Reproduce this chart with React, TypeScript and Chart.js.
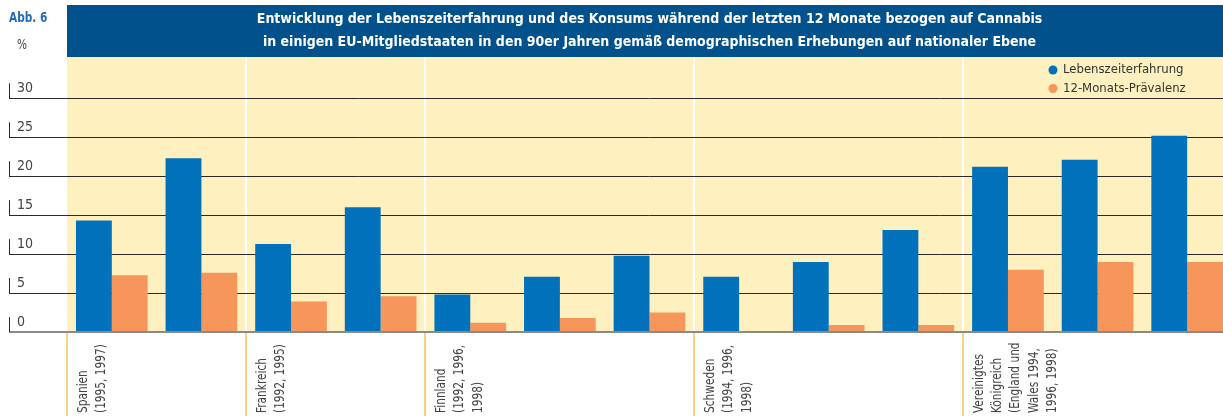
import React, { useEffect, useRef } from 'react';
import { Chart, registerables } from 'chart.js';

Chart.register(...registerables);

const FONT = "'Liberation Sans Narrow', 'DejaVu Sans Condensed', 'Arial Narrow', 'Roboto', sans-serif";

const categories = [
  'Spanien 1995', 'Spanien 1997',
  'Frankreich 1992', 'Frankreich 1995',
  'Finnland 1992', 'Finnland 1996', 'Finnland 1998',
  'Schweden 1994', 'Schweden 1996', 'Schweden 1998',
  'Vereinigtes Königreich 1994', 'Vereinigtes Königreich 1996', 'Vereinigtes Königreich 1998',
];
const seriesNames = ['Lebenszeiterfahrung', '12-Monats-Prävalenz'];
const lifetime = [14.3, 22.3, 11.3, 16.0, 4.8, 7.1, 9.8, 7.1, 9.0, 13.1, 21.2, 22.1, 25.2];
const lastYear = [7.3, 7.6, 3.9, 4.6, 1.2, 1.8, 2.5, null, 0.9, 0.9, 8.0, 9.0, 9.0];
const groupStarts = [0, 2, 4, 7, 10];
const groupLabels = [
  ['Spanien', '(1995, 1997)'],
  ['Frankreich', '(1992, 1995)'],
  ['Finnland', '(1992, 1996,', '1998)'],
  ['Schweden', '(1994, 1996,', '1998)'],
  ['Vereinigtes', 'Königreich', '(England und', 'Wales 1994,', '1996, 1998)'],
];
const titleLines = [
  'Entwicklung der Lebenszeiterfahrung und des Konsums während der letzten 12 Monate bezogen auf Cannabis',
  'in einigen EU-Mitgliedstaaten in den 90er Jahren gemäß demographischen Erhebungen auf nationaler Ebene',
];
const figureLabel = 'Abb. 6';
const unitLabel = '%';
const yMin = 0;
const yMax = 35.3;
const yTickMax = 30;
const yStep = 5;

const COLORS = {
  blue: '#0071ba',
  orange: '#f6965a',
  yellow: '#fef0bf',
  header: '#00518c',
  grid: '#2a2a2a',
  zero: '#8a8a8a',
  sepWhite: '#ffffff',
  sepOrange: '#fbd27c',
  text: '#444444',
  figure: '#1f6db5',
};

const NARROW = 0.84;

function drawNarrowText(ctx: CanvasRenderingContext2D, text: string, x: number, y: number, angle = 0) {
  ctx.save();
  ctx.translate(x, y);
  if (angle) ctx.rotate(angle);
  ctx.scale(NARROW, 1);
  ctx.fillText(text, 0, 0);
  ctx.restore();
}

const backgroundPlugin = {
  id: 'backgroundPlugin',
  beforeDraw(chart: any) {
    const { ctx, chartArea } = chart;
    ctx.save();
    ctx.fillStyle = COLORS.yellow;
    ctx.fillRect(chartArea.left, chartArea.top, chartArea.right - chartArea.left, chartArea.bottom - chartArea.top);
    const t = chart.titleBlock;
    if (t) {
      ctx.fillStyle = COLORS.header;
      ctx.fillRect(chartArea.left, t.top, chart.width - chartArea.left, t.bottom - t.top);
    }
    ctx.restore();
  },
};

const legendPlacePlugin = {
  id: 'legendPlacePlugin',
  afterLayout(chart: any) {
    const l = chart.legend;
    if (!l) return;
    const w = l.width;
    const h = l.height;
    l.left = chart.chartArea.right - 188;
    l.right = l.left + w;
    l.top = chart.chartArea.top + 1;
    l.bottom = l.top + h;
  },
};

const decorPlugin = {
  id: 'decorPlugin',
  afterDraw(chart: any) {
    const { ctx, chartArea } = chart;
    const ys = chart.scales.y;
    const xs = chart.scales.x;
    ctx.save();
    // small vertical ticks at the left end of each grid line
    const tl = ys.options.grid.tickLength;
    const lx = chartArea.left - tl + 0.5;
    ctx.strokeStyle = COLORS.grid;
    ctx.lineWidth = 1;
    ys.ticks.forEach((t: any) => {
      const py = ys.getPixelForValue(t.value);
      ctx.beginPath();
      ctx.moveTo(lx, py - 15);
      ctx.lineTo(lx, py);
      ctx.stroke();
    });
    // figure label and unit
    ctx.textAlign = 'left';
    ctx.textBaseline = 'middle';
    ctx.fillStyle = COLORS.figure;
    ctx.font = `bold 14px ${FONT}`;
    drawNarrowText(ctx, figureLabel, 9, 18);
    ctx.fillStyle = COLORS.text;
    ctx.font = `14px ${FONT}`;
    drawNarrowText(ctx, unitLabel, 17, 45);
    // category group labels (rotated, start-aligned at the bottom)
    const slot = xs.getPixelForValue(1) - xs.getPixelForValue(0);
    ctx.font = `14px ${FONT}`;
    ctx.fillStyle = COLORS.text;
    groupStarts.forEach((start, g) => {
      const left = xs.getPixelForValue(start) - slot / 2;
      groupLabels[g].forEach((line, j) => {
        drawNarrowText(ctx, line, left + 16 + j * 18.3, chart.height - 3, -Math.PI / 2);
      });
    });
    ctx.restore();
  },
};

export default function App() {
  const ref = useRef<HTMLCanvasElement | null>(null);
  useEffect(() => {
    if (!ref.current) return;
    const isZero = (c: any) => c.tick && c.tick.value === 0;
    const chart = new Chart(ref.current, {
      type: 'bar',
      data: {
        labels: categories,
        datasets: [
          {
            label: seriesNames[0],
            data: lifetime,
            backgroundColor: COLORS.blue,
            borderWidth: 0,
            categoryPercentage: 0.8,
            barPercentage: 1.0,
          },
          {
            label: seriesNames[1],
            data: lastYear,
            backgroundColor: COLORS.orange,
            borderWidth: 0,
            categoryPercentage: 0.8,
            barPercentage: 1.0,
          },
        ],
      },
      options: {
        animation: false,
        responsive: false,
        devicePixelRatio: 1,
        layout: { padding: { left: 17, top: 5, right: 0, bottom: 0 } },
        plugins: {
          title: {
            display: true,
            text: titleLines,
            fullSize: false,
            color: '#ffffff',
            font: { family: FONT, size: 14, weight: 'bold', lineHeight: 1.6 },
            padding: { top: 3.6, bottom: 3.6 },
          },
          legend: {
            display: true,
            position: 'chartArea',
            align: 'start',
            labels: {
              usePointStyle: true,
              pointStyle: 'circle',
              boxWidth: 7,
              boxHeight: 6.4,
              padding: 5.5,
              color: '#333333',
              font: { family: FONT, size: 13 },
            },
          },
          tooltip: { enabled: false },
        },
        scales: {
          x: {
            offset: true,
            border: { display: false },
            ticks: { display: false },
            grid: {
              offset: true,
              drawTicks: true,
              tickLength: 84,
              lineWidth: 2,
              tickWidth: 2,
              color: (c: any) => (groupStarts.includes(c.index) && c.index > 0 ? COLORS.sepWhite : 'rgba(0,0,0,0)'),
              tickColor: (c: any) => (groupStarts.includes(c.index) ? COLORS.sepOrange : 'rgba(0,0,0,0)'),
            },
            afterFit: (s: any) => {
              s.height = 84;
            },
          },
          y: {
            min: yMin,
            max: yMax,
            border: { display: false },
            afterBuildTicks: (s: any) => {
              s.ticks = s.ticks.filter((t: any) => t.value <= yTickMax);
            },
            afterFit: (s: any) => {
              s.width = 50;
            },
            ticks: {
              stepSize: yStep,
              crossAlign: 'far',
              labelOffset: -9.5,
              padding: 0,
              color: COLORS.text,
              font: { family: FONT, size: 14 },
            },
            grid: {
              drawTicks: true,
              tickLength: 58,
              color: (c: any) => (isZero(c) ? COLORS.zero : COLORS.grid),
              tickColor: (c: any) => (isZero(c) ? COLORS.zero : COLORS.grid),
              lineWidth: (c: any) => (isZero(c) ? 2 : 1),
              tickWidth: (c: any) => (isZero(c) ? 2 : 1),
            },
          },
        },
      } as any,
      plugins: [backgroundPlugin, legendPlacePlugin, decorPlugin],
    });
    return () => chart.destroy();
  }, []);
  return (
    <div style={{ position: 'absolute', left: 0, top: 0, width: 1223, height: 416, overflow: 'hidden', background: '#fff' }}>
      <canvas ref={ref} width={1232} height={416} style={{ display: 'block', width: 1232, height: 416 }} />
    </div>
  );
}
